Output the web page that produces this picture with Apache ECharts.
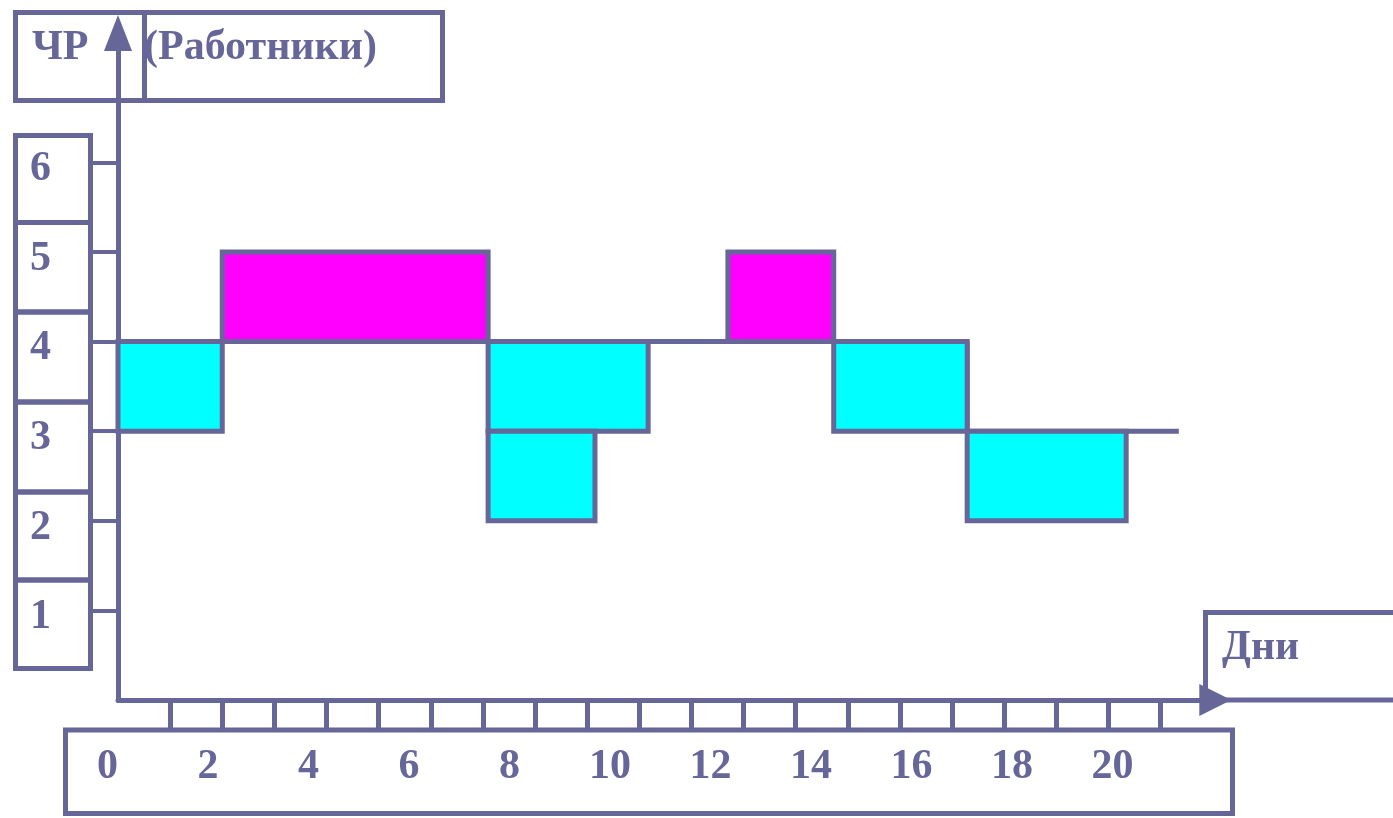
<!DOCTYPE html>
<html>
<head>
<meta charset="utf-8">
<script src="https://cdn.jsdelivr.net/npm/echarts@6/dist/echarts.min.js"></script>
<style>
  html, body { margin: 0; padding: 0; background: #ffffff; }
  #chart { width: 1393px; height: 818px; }
</style>
</head>
<body>
<div id="chart"></div>
<script>
// Шкалы: численность рабочих (ЧР) и дни
const workerTicks = [1, 2, 3, 4, 5, 6];
const dayTicks = [1, 2, 3, 4, 5, 6, 7, 8, 9, 10, 11, 12, 13, 14, 15, 16, 17, 18, 19, 20];
const dayLabels = [0, 2, 4, 6, 8, 10, 12, 14, 16, 18, 20];

// Голубые блоки: начало и конец (дни), нижний и верхний уровень (рабочие)
const cyanStart = [0, 7.1, 7.1, 13.73, 16.29];
const cyanEnd   = [2, 10.17, 9.15, 16.29, 19.34];
const cyanLow   = [3, 3, 2, 3, 2];
const cyanHigh  = [4, 4, 3, 4, 3];

// Пурпурные блоки
const magentaStart = [2, 11.7];
const magentaEnd   = [7.1, 13.73];
const magentaLow   = [4, 4];
const magentaHigh  = [5, 5];

// Ступенчатый профиль численности
const profileDays    = [0, 16.29, 16.29, 20.35];
const profileWorkers = [4, 4, 3, 3];

const INK = '#666699';
const FONT = '"Liberation Serif", "Times New Roman", serif';
const textStyle = { color: INK, fontFamily: FONT, fontWeight: 'bold', fontSize: 42 };

function blockData(start, end, low, high) {
  return start.map((s, i) => [s, end[i], low[i], high[i]]);
}

function renderBlock(fill) {
  return function (params, api) {
    const tl = api.coord([api.value(0), api.value(3)]);
    const br = api.coord([api.value(1), api.value(2)]);
    return {
      type: 'rect',
      shape: { x: tl[0], y: tl[1], width: br[0] - tl[0], height: br[1] - tl[1] },
      style: { fill: fill, stroke: INK, lineWidth: 5 }
    };
  };
}

const frame = { fill: 'none', stroke: INK, lineWidth: 5 };
const rowEdges = [135.5, 222.5, 312, 402, 492, 580, 668.5];
const frames = [
  { type: 'rect', shape: { x: 15.5, y: 12.5, width: 129, height: 88 }, style: frame },
  { type: 'rect', shape: { x: 144.5, y: 12.5, width: 298, height: 88 }, style: frame },
  { type: 'rect', shape: { x: 65.5, y: 730, width: 1167, height: 83.5 }, style: frame },
  { type: 'rect', shape: { x: 1205.5, y: 612.5, width: 220, height: 87.5 }, style: frame }
];
for (let i = 0; i < rowEdges.length - 1; i++) {
  frames.push({
    type: 'rect',
    shape: { x: 15.5, y: rowEdges[i], width: 75, height: rowEdges[i + 1] - rowEdges[i] },
    style: frame
  });
}

const chart = echarts.init(document.getElementById('chart'), null, { renderer: 'canvas' });

chart.setOption({
  backgroundColor: '#ffffff',
  animation: false,
  title: [
    { text: 'ЧР', left: 32, top: 27, padding: 0, textStyle: textStyle },
    { text: '(Работники)', left: 144, top: 27, padding: 0, textStyle: textStyle },
    { text: 'Дни', left: 1222, top: 627, padding: 0, textStyle: textStyle }
  ],
  grid: [
    { left: 118, top: 33, width: 1097.3, height: 667, outerBoundsMode: 'none' },
    { left: 7, top: 700, width: 1206, height: 35, outerBoundsMode: 'none' }
  ],
  xAxis: [
    {
      type: 'value', gridIndex: 0, min: 0, max: 21.05,
      axisLine: {
        show: true, symbol: ['none', 'triangle'], symbolSize: [32, 32],
        lineStyle: { color: INK, width: 5 }
      },
      axisTick: { show: true, customValues: dayTicks, length: 30, lineStyle: { color: INK, width: 5 } },
      axisLabel: { show: false },
      splitLine: { show: false }
    },
    {
      type: 'value', gridIndex: 1, min: -2, max: 22, position: 'bottom',
      axisLine: { show: false },
      axisTick: { show: false },
      axisLabel: { show: true, customValues: dayLabels, margin: 11, ...textStyle },
      splitLine: { show: false }
    }
  ],
  yAxis: [
    {
      type: 'value', gridIndex: 0, min: 0, max: 7.444,
      axisLine: {
        show: true, symbol: ['none', 'triangle'], symbolSize: [28, 36],
        lineStyle: { color: INK, width: 5 }
      },
      axisTick: { show: true, customValues: workerTicks, length: 25, lineStyle: { color: INK, width: 4 } },
      axisLabel: {
        show: true, customValues: workerTicks, align: 'left', margin: 88,
        verticalAlign: 'top', lineHeight: 14, ...textStyle
      },
      splitLine: { show: false }
    },
    {
      type: 'value', gridIndex: 1, show: false
    }
  ],
  graphic: frames,
  series: [
    {
      type: 'custom', name: 'cyan', xAxisIndex: 0, yAxisIndex: 0,
      renderItem: renderBlock('#00ffff'),
      encode: { x: [0, 1], y: [2, 3] },
      data: blockData(cyanStart, cyanEnd, cyanLow, cyanHigh),
      z: 3
    },
    {
      type: 'custom', name: 'magenta', xAxisIndex: 0, yAxisIndex: 0,
      renderItem: renderBlock('#ff00ff'),
      encode: { x: [0, 1], y: [2, 3] },
      data: blockData(magentaStart, magentaEnd, magentaLow, magentaHigh),
      z: 3
    },
    {
      type: 'line', name: 'profile', xAxisIndex: 0, yAxisIndex: 0,
      data: profileDays.map((d, i) => [d, profileWorkers[i]]),
      showSymbol: false, symbol: 'none',
      lineStyle: { color: INK, width: 5 },
      z: 2
    }
  ]
});
</script>
</body>
</html>
